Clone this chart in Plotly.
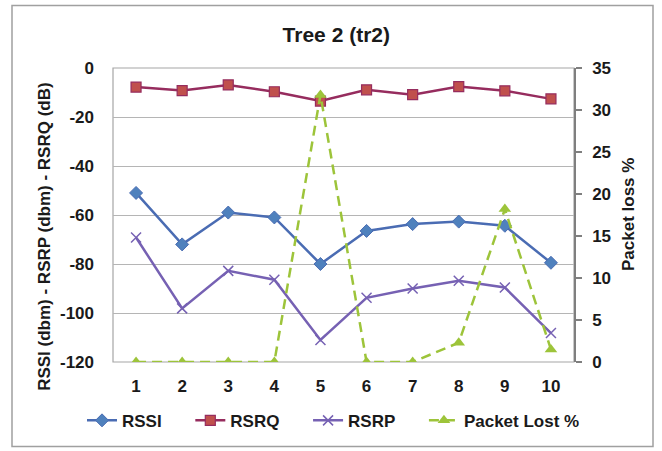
import plotly.graph_objects as go

categories = ["1", "2", "3", "4", "5", "6", "7", "8", "9", "10"]
rssi = [-51, -72, -59, -61, -80, -66.5, -63.7, -62.7, -64.4, -79.5]
rsrq = [-7.8, -9.2, -6.9, -9.7, -13.5, -8.9, -10.9, -7.6, -9.3, -12.6]
rsrp = [-69.2, -98.1, -82.8, -86.4, -111, -93.8, -90, -86.8, -89.6, -108.2]
packet_lost = [0, 0, 0, 0, 31.8, 0, 0, 2.3, 18.2, 1.5]

left_ticks = [0, -20, -40, -60, -80, -100, -120]
right_ticks = [0, 5, 10, 15, 20, 25, 30, 35]

FONT = "Liberation Sans, Arial, sans-serif"
TXT = "#1a1a1a"
PAD = "&nbsp;" * 5

fig = go.Figure()
fig.add_trace(go.Scatter(
    x=categories, y=rssi, name="<b>RSSI</b>" + PAD, mode="lines+markers",
    line=dict(color="#4A6CB3", width=2.5),
    marker=dict(symbol="diamond", size=10, color="#4F81BD", line=dict(color="#4A6CB3", width=1)),
))
fig.add_trace(go.Scatter(
    x=categories, y=rsrq, name="<b>RSRQ</b>" + PAD, mode="lines+markers",
    line=dict(color="#962C5E", width=2.5),
    marker=dict(symbol="square", size=10, color="#C0504D", line=dict(color="#962C5E", width=1.2)),
))
fig.add_trace(go.Scatter(
    x=categories, y=rsrp, name="<b>RSRP</b>" + PAD, mode="lines+markers",
    line=dict(color="#7661B3", width=2.5),
    marker=dict(symbol="x-thin", size=10, color="#7661B3", line=dict(color="#7661B3", width=1.5)),
))
fig.add_trace(go.Scatter(
    x=categories, y=packet_lost, name="<b>Packet Lost %</b>", mode="lines+markers",
    yaxis="y2",
    line=dict(color="#9DC43A", width=2.5, dash="10px,6px"),
    marker=dict(symbol="triangle-up", size=11, color="#9DC43A"),
))

fig.update_layout(
    width=662, height=451,
    margin=dict(l=113, r=88, t=68, b=87),
    paper_bgcolor="white", plot_bgcolor="white",
    font=dict(family=FONT, size=17, color=TXT),
    title=dict(text="<b>Tree 2 (tr2)</b>", x=0.508, xanchor="center", y=1 - 35 / 451, yanchor="middle",
               font=dict(size=21, family=FONT, color=TXT)),
    xaxis=dict(
        type="category", range=[-0.5, 9.5], showgrid=False, zeroline=False,
        showline=False, ticks="", tickfont=dict(size=17, family=FONT, color=TXT),
        ticklabelstandoff=12,
        tickvals=categories, ticktext=["<b>%s</b>" % c for c in categories],
    ),
    yaxis=dict(
        range=[-120, 0], tickvals=left_ticks, ticktext=["<b>%d</b>" % v for v in left_ticks],
        showgrid=True, gridcolor="#b5b5b5", gridwidth=1, zeroline=False,
        showline=False, ticks="", tickfont=dict(size=17, family=FONT, color=TXT), ticklabelstandoff=18,
    ),
    yaxis2=dict(
        range=[0, 35], overlaying="y", side="right",
        tickvals=right_ticks, ticktext=["<b>%d</b>" % v for v in right_ticks],
        showgrid=False, zeroline=False, showline=True, linecolor="#7f7f7f", linewidth=1.5,
        ticks="outside", ticklen=6, tickcolor="#7f7f7f", tickwidth=1.5,
        tickfont=dict(size=17, family=FONT, color=TXT), ticklabelstandoff=7,
    ),
    legend=dict(
        orientation="h", x=(82 - 113) / 461, xanchor="left", y=-0.2, yanchor="middle",
        font=dict(size=17, family=FONT, color=TXT), bgcolor="rgba(0,0,0,0)",
        itemwidth=30, tracegroupgap=0,
    ),
    showlegend=True,
    shapes=[
        dict(type="rect", xref="paper", yref="paper", x0=0, x1=1, y0=0, y1=1,
             line=dict(color="#a6a6a6", width=1.2), layer="below"),
        dict(type="rect", xref="paper", yref="paper",
             x0=(12 - 113) / 461, x1=(653 - 113) / 461,
             y0=(364 - 449) / 296, y1=(364 - 5) / 296,
             line=dict(color="#a0a0a0", width=1.5), layer="below"),
    ],
    annotations=[
        dict(text="<b>RSSI (dbm) - RSRP (dbm) - RSRQ (dB)</b>", xref="paper", yref="paper",
             x=(45 - 113) / 461, y=(364 - 238) / 296, textangle=-90, showarrow=False,
             xanchor="center", yanchor="middle", font=dict(size=17, family=FONT, color=TXT)),
        dict(text="<b>Packet loss %</b>", xref="paper", yref="paper",
             x=(628 - 113) / 461, y=0.5, textangle=-90, showarrow=False,
             xanchor="center", yanchor="middle", font=dict(size=17, family=FONT, color=TXT)),
    ],
)

fig.write_html("out.html")
